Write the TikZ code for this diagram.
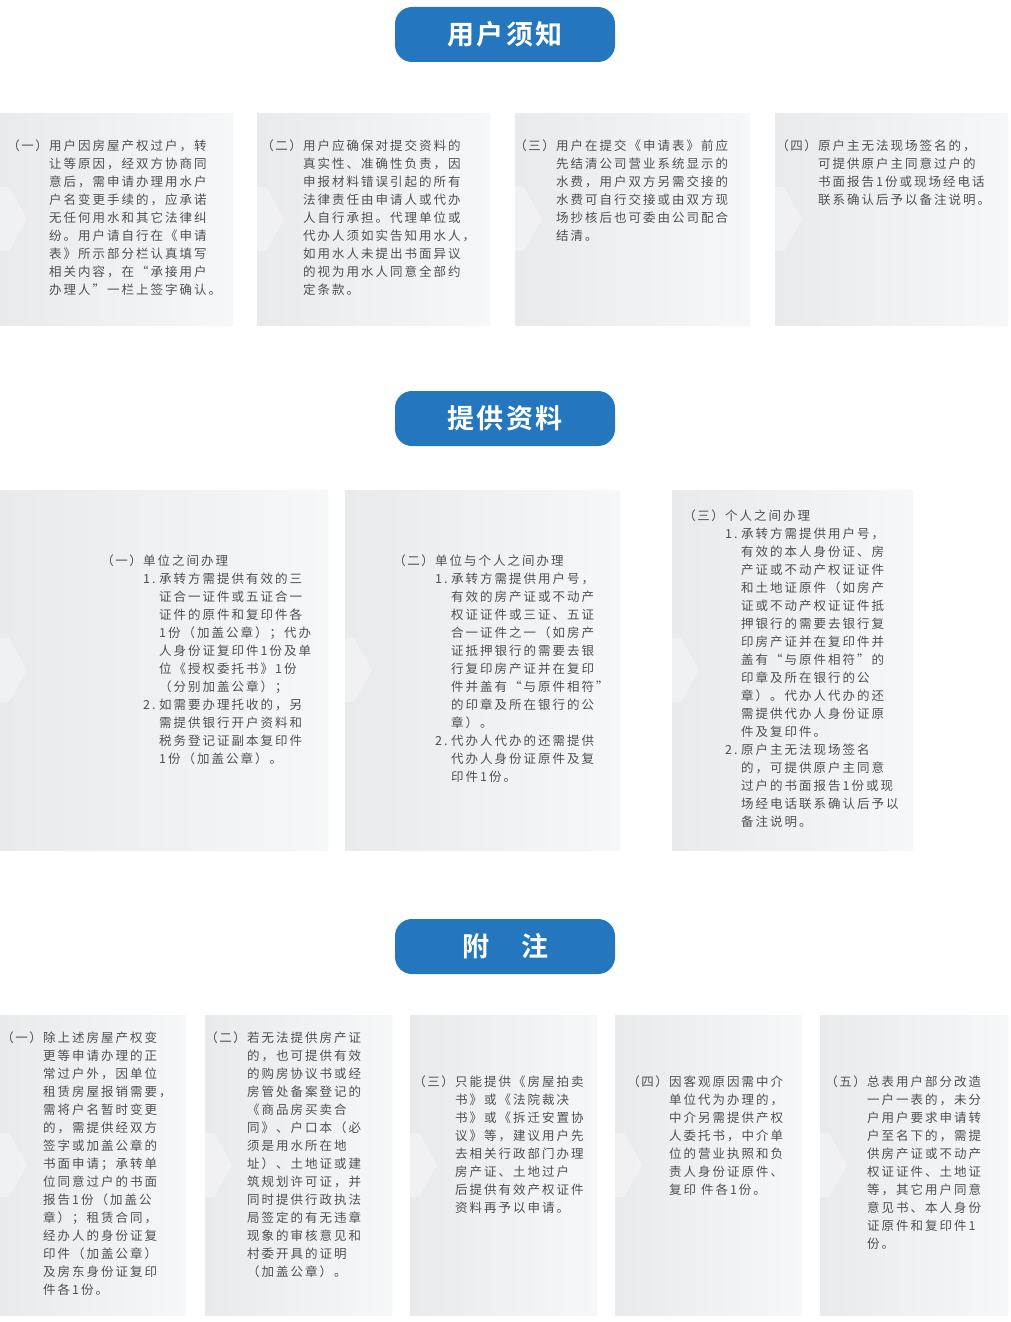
\documentclass[tikz,border=0pt]{standalone}
\usepackage{fontspec}
\newfontfamily\cjk[LetterSpace=16]{Noto Sans CJK SC}
\newfontfamily\cjkb[LetterSpace=8]{Noto Sans CJK SC Bold}
\definecolor{hdr}{HTML}{2476BE}
\definecolor{pl}{HTML}{E9EAEC}
\definecolor{pr}{HTML}{F6F7F8}
\definecolor{tx}{HTML}{505050}
\newcommand\itm[1]{\makebox[16pt][l]{#1}}
\newcommand\cnt{\hspace*{16pt}}
\tikzset{
  txt/.style={inner sep=0pt,align=left,text=tx,font=\cjk\fontsize{12.5}{18}\selectfont},
  hdrbox/.style={fill=hdr,rounded corners=17pt,minimum width=220pt,minimum height=55pt,text=white,font=\cjkb\fontsize{27}{30}\selectfont}
}
\newcommand\panel[4]{%
  \shade[left color=pl,right color=pr] (#1,#3) rectangle (#2,#4);
  \fill[white,opacity=0.35] (#1,{(#3+#4)/2-32}) -- ++(9,0) -- ++(18,32) -- ++(-18,32) -- ++(-9,0) -- cycle;}
\newcommand\blk[6]{%
  \node[txt,anchor=north east] (#1l) at (#3-1,#4) {（\hspace{1.5pt}#5\hspace{1.5pt}）};
  \node[txt,anchor=north west] (#1) at (#3,#4) {#6};}
\begin{document}
\begin{tikzpicture}[x=1pt,y=-1pt]
\useasboundingbox[fill=white] (0,0) rectangle (1010,1322);
% section 1
\node[hdrbox] (h1) at (505,34.5) {用户须知};
\panel{0}{233}{113}{325}
\panel{257}{490}{113}{325}
\panel{515}{750}{113}{325}
\panel{775}{1008}{113}{325}
\blk{a1}{17}{49}{140}{一}{用户因房屋产权过户，转\\让等原因，经双方协商同\\意后，需申请办理用水户\\户名变更手续的，应承诺\\无任何用水和其它法律纠\\纷。用户请自行在《申请\\表》所示部分栏认真填写\\相关内容，在“承接用户\\办理人”一栏上签字确认。}
\blk{a2}{271}{303}{140}{二}{用户应确保对提交资料的\\真实性、准确性负责，因\\申报材料错误引起的所有\\法律责任由申请人或代办\\人自行承担。代理单位或\\代办人须如实告知用水人，\\如用水人未提出书面异议\\的视为用水人同意全部约\\定条款。}
\blk{a3}{523}{556}{140}{三}{用户在提交《申请表》前应\\先结清公司营业系统显示的\\水费，用户双方另需交接的\\水费可自行交接或由双方现\\场抄核后也可委由公司配合\\结清。}
\blk{a4}{786}{818}{140}{四}{原户主无法现场签名的，\\可提供原户主同意过户的\\书面报告1份或现场经电话\\联系确认后予以备注说明。}
% section 2
\node[hdrbox] (h2) at (505,418.5) {提供资料};
\panel{0}{328}{490}{850}
\panel{345}{620}{490}{850}
\panel{672}{913}{490}{850}
\blk{b1}{110}{143}{555}{一}{单位之间办理\\\itm{1.}承转方需提供有效的三\\\cnt 证合一证件或五证合一\\\cnt 证件的原件和复印件各\\\cnt 1份（加盖公章）；代办\\\cnt 人身份证复印件1份及单\\\cnt 位《授权委托书》1份\\\cnt （分别加盖公章）；\\\itm{2.}如需要办理托收的，另\\\cnt 需提供银行开户资料和\\\cnt 税务登记证副本复印件\\\cnt 1份（加盖公章）。}
\blk{b2}{403}{435}{555}{二}{单位与个人之间办理\\\itm{1.}承转方需提供用户号，\\\cnt 有效的房产证或不动产\\\cnt 权证证件或三证、五证\\\cnt 合一证件之一（如房产\\\cnt 证抵押银行的需要去银\\\cnt 行复印房产证并在复印\\\cnt 件并盖有“与原件相符”\\\cnt 的印章及所在银行的公\\\cnt 章）。\\\itm{2.}代办人代办的还需提供\\\cnt 代办人身份证原件及复\\\cnt 印件1份。}
\blk{b3}{693}{725}{510}{三}{个人之间办理\\\itm{1.}承转方需提供用户号，\\\cnt 有效的本人身份证、房\\\cnt 产证或不动产权证证件\\\cnt 和土地证原件（如房产\\\cnt 证或不动产权证证件抵\\\cnt 押银行的需要去银行复\\\cnt 印房产证并在复印件并\\\cnt 盖有“与原件相符”的\\\cnt 印章及所在银行的公\\\cnt 章）。代办人代办的还\\\cnt 需提供代办人身份证原\\\cnt 件及复印件。\\\itm{2.}原户主无法现场签名\\\cnt 的，可提供原户主同意\\\cnt 过户的书面报告1份或现\\\cnt 场经电话联系确认后予以\\\cnt 备注说明。}
% section 3
\node[hdrbox] (h3) at (505,946.5) {附\hspace{32pt}注};
\panel{0}{186}{1015}{1315}
\panel{205}{392}{1015}{1315}
\panel{410}{597}{1015}{1315}
\panel{615}{802}{1015}{1315}
\panel{820}{1008}{1015}{1315}
\blk{c1}{10}{43}{1032}{一}{除上述房屋产权变\\更等申请办理的正\\常过户外，因单位\\租赁房屋报销需要，\\需将户名暂时变更\\的，需提供经双方\\签字或加盖公章的\\书面申请；承转单\\位同意过户的书面\\报告1份（加盖公\\章）；租赁合同，\\经办人的身份证复\\印件（加盖公章）\\及房东身份证复印\\件各1份。}
\blk{c2}{215}{247}{1032}{二}{若无法提供房产证\\的，也可提供有效\\的购房协议书或经\\房管处备案登记的\\《商品房买卖合\\同》、户口本（必\\须是用水所在地\\址）、土地证或建\\筑规划许可证，并\\同时提供行政执法\\局签定的有无违章\\现象的审核意见和\\村委开具的证明\\（加盖公章）。}
\blk{c3}{422}{455}{1076}{三}{只能提供《房屋拍卖\\书》或《法院裁决\\书》或《拆迁安置协\\议》等，建议用户先\\去相关行政部门办理\\房产证、土地过户\\后提供有效产权证件\\资料再予以申请。}
\blk{c4}{636}{669}{1076}{四}{因客观原因需中介\\单位代为办理的，\\中介另需提供产权\\人委托书，中介单\\位的营业执照和负\\责人身份证原件、\\复印 件各1份。}
\blk{c5}{830}{867}{1076}{五}{总表用户部分改造\\一户一表的，未分\\户用户要求申请转\\户至名下的，需提\\供房产证或不动产\\权证证件、土地证\\等，其它用户同意\\意见书、本人身份\\证原件和复印件1\\份。}
\end{tikzpicture}
\end{document}
